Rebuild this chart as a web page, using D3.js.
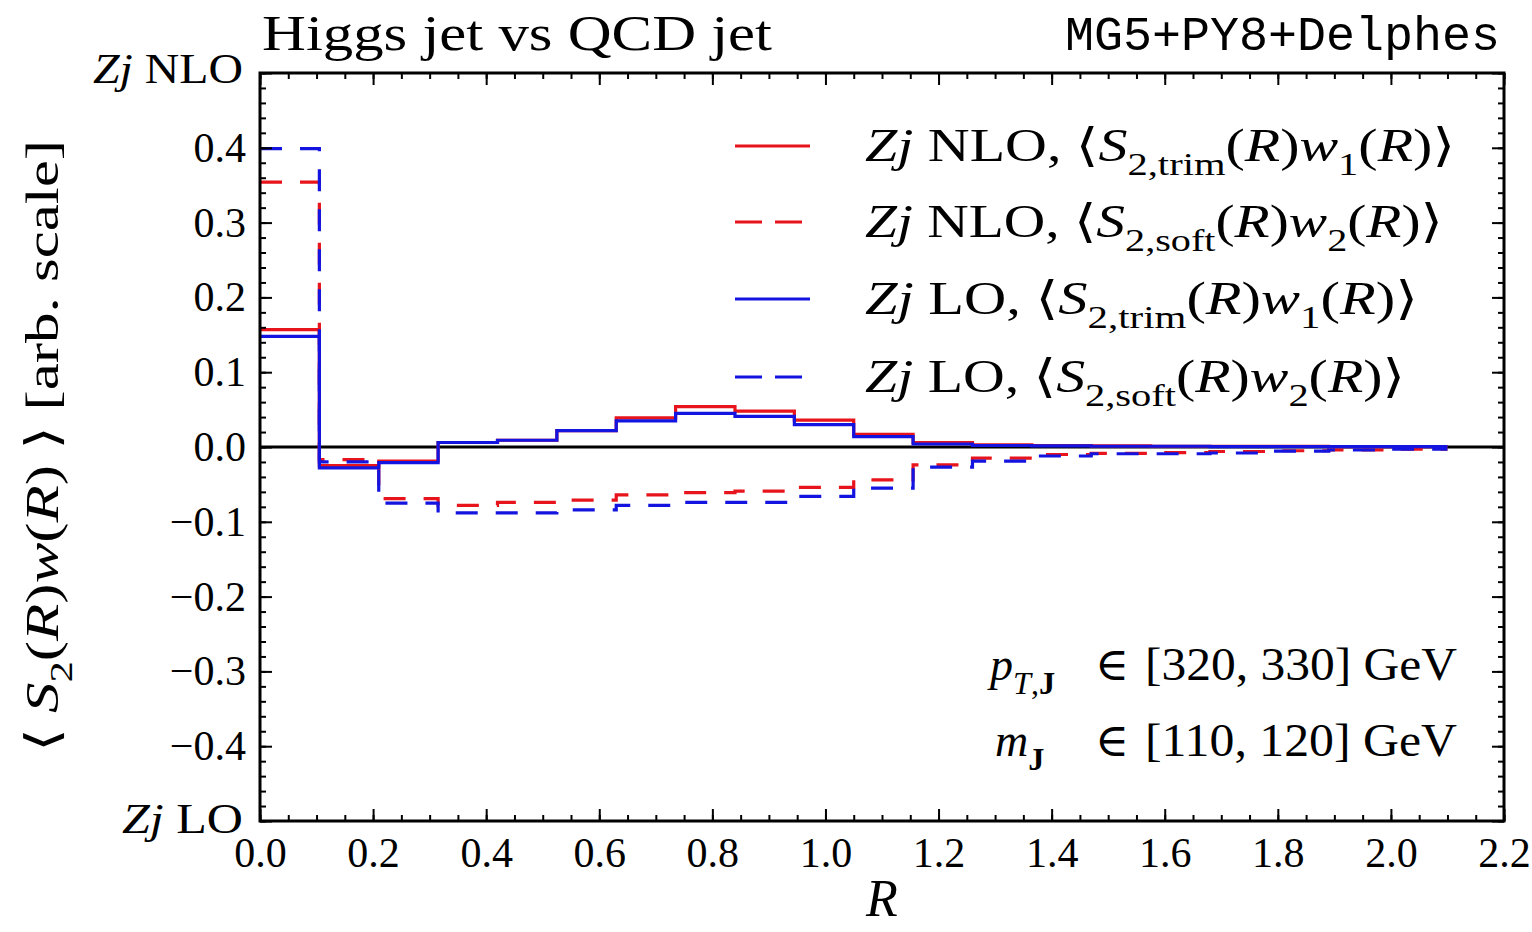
<!DOCTYPE html>
<html><head><meta charset="utf-8">
<script src="https://cdn.jsdelivr.net/npm/d3@7"></script>
<style>body{margin:0;background:#fff}svg{display:block}</style>
</head><body>
<svg id="chart" width="1532" height="932"></svg>
<script>
// ---- data ----
const binEdges = [0, 0.105, 0.21, 0.315, 0.42, 0.525, 0.63, 0.735, 0.84, 0.945, 1.05,
                  1.155, 1.26, 1.365, 1.47, 1.575, 1.68, 1.785, 1.89, 1.995, 2.1];
const nloTrim = [0.157, -0.025, -0.019, 0.006, 0.009, 0.022, 0.039, 0.054, 0.048, 0.036,
                 0.017, 0.006, 0.003, 0.002, 0.0015, 0.001, 0.001, 0.001, 0.0005, 0.0005];
const nloSoft = [0.354, -0.017, -0.069, -0.078, -0.074, -0.071, -0.064, -0.061, -0.059, -0.054,
                 -0.044, -0.024, -0.015, -0.010, -0.0085, -0.0076, -0.006, -0.005, -0.004, -0.003];
const loTrim  = [0.148, -0.028, -0.021, 0.006, 0.009, 0.022, 0.035, 0.045, 0.041, 0.030,
                 0.014, 0.004, 0.002, 0.0015, 0.001, 0.001, 0.0005, 0.0005, 0.0005, 0.0005];
const loSoft  = [0.399, -0.020, -0.075, -0.088, -0.088, -0.084, -0.078, -0.074, -0.074, -0.066,
                 -0.055, -0.027, -0.019, -0.012, -0.009, -0.009, -0.008, -0.0055, -0.004, -0.003];
const xTickValues = [0, 0.2, 0.4, 0.6, 0.8, 1.0, 1.2, 1.4, 1.6, 1.8, 2.0, 2.2];
const xTickLabels = ["0.0","0.2","0.4","0.6","0.8","1.0","1.2","1.4","1.6","1.8","2.0","2.2"];
const yTickValues = [-0.5, -0.4, -0.3, -0.2, -0.1, 0, 0.1, 0.2, 0.3, 0.4, 0.5];
const yTickLabels = ["", "\u22120.4", "\u22120.3", "\u22120.2", "\u22120.1", "0.0", "0.1", "0.2", "0.3", "0.4", ""];

const seriesList = [
  {name: "nloTrim", values: nloTrim, color: "#e8141c", dash: null},
  {name: "nloSoft", values: nloSoft, color: "#e8141c", dash: "22,18"},
  {name: "loTrim",  values: loTrim,  color: "#1414e0", dash: null},
  {name: "loSoft",  values: loSoft,  color: "#1414e0", dash: "22,18"}
];

// ---- layout ----
const W = 1532, H = 932;
const L = 260, R = 1504, T = 73, B = 821;
const SERIF = "'Liberation Serif', 'DejaVu Serif', serif";
const svg = d3.select("#chart");
svg.append("rect").attr("width", W).attr("height", H).attr("fill", "#fff");

const x = d3.scaleLinear().domain([0, 2.2]).range([L, R]);
const y = d3.scaleLinear().domain([-0.5, 0.5]).range([B, T]);

// rich text helper
function rich(sel, parts) {
  let off = 0;
  parts.forEach(([t, st]) => {
    const ts = sel.append("tspan").text(t);
    const isSub = st.startsWith("sub");
    const target = isSub ? 0.30 : 0;
    if (isSub) ts.attr("font-size", "70%");
    if (target !== off) {
      ts.attr("dy", ((target - off) * (isSub ? 1 / 0.7 : 1)) + "em");
      off = target;
    }
    if (st === "i" || st === "subi") ts.attr("font-style", "italic");
    if (st === "subb") ts.attr("font-weight", "bold");
  });
  return sel;
}

// zero line
svg.append("line").attr("x1", L).attr("x2", R).attr("y1", y(0)).attr("y2", y(0))
  .attr("stroke", "#000").attr("stroke-width", 3);

// step lines
const stepLine = d3.line().x(d => x(d[0])).y(d => y(d[1])).curve(d3.curveStepAfter);
seriesList.forEach(s => {
  const pts = s.values.map((v, i) => [binEdges[i], v]);
  pts.push([binEdges[binEdges.length - 1], s.values[s.values.length - 1]]);
  svg.append("path").datum(pts).attr("d", stepLine)
    .attr("fill", "none").attr("stroke", s.color).attr("stroke-width", 3.2)
    .attr("stroke-dasharray", s.dash);
});

// axes
const tickFont = 42;
function styleAxis(g) {
  g.select(".domain").remove();
  g.selectAll(".tick line").attr("stroke", "#000").attr("stroke-width", 2);
  g.selectAll("text").attr("font-family", SERIF).attr("font-size", tickFont).attr("fill", "#000");
}
const xMinor = d3.range(0, 2.2001, 0.05);
const yMinor = d3.range(-0.5, 0.5001, 0.02);

svg.append("g").attr("transform", `translate(0,${B})`)
  .call(d3.axisBottom(x).tickValues(xMinor).tickSize(-6).tickFormat(""))
  .call(styleAxis);
svg.append("g").attr("transform", `translate(0,${B})`)
  .call(d3.axisBottom(x).tickValues(xTickValues).tickSize(-12).tickPadding(16)
    .tickFormat((d, i) => xTickLabels[i]))
  .call(styleAxis);
svg.append("g").attr("transform", `translate(0,${T})`)
  .call(d3.axisTop(x).tickValues(xMinor).tickSize(-6).tickFormat("")).call(styleAxis);
svg.append("g").attr("transform", `translate(0,${T})`)
  .call(d3.axisTop(x).tickValues(xTickValues).tickSize(-12).tickFormat("")).call(styleAxis);

svg.append("g").attr("transform", `translate(${L},0)`)
  .call(d3.axisLeft(y).tickValues(yMinor).tickSize(-6).tickFormat("")).call(styleAxis);
svg.append("g").attr("transform", `translate(${L},0)`)
  .call(d3.axisLeft(y).tickValues(yTickValues).tickSize(-12).tickPadding(14)
    .tickFormat((d, i) => yTickLabels[i]))
  .call(styleAxis);
svg.append("g").attr("transform", `translate(${R},0)`)
  .call(d3.axisRight(y).tickValues(yMinor).tickSize(-6).tickFormat("")).call(styleAxis);
svg.append("g").attr("transform", `translate(${R},0)`)
  .call(d3.axisRight(y).tickValues(yTickValues).tickSize(-12).tickFormat("")).call(styleAxis);

// frame
svg.append("rect").attr("x", L).attr("y", T).attr("width", R - L).attr("height", B - T)
  .attr("fill", "none").attr("stroke", "#000").attr("stroke-width", 3);

// end labels on y axis
rich(svg.append("text").attr("x", 93).attr("y", y(0.5) + 10)
  .attr("font-family", SERIF).attr("font-size", 42)
  .attr("textLength", 150).attr("lengthAdjust", "spacingAndGlyphs"),
  [["Z", "i"], ["j", "i"], [" NLO", "r"]]);
rich(svg.append("text").attr("x", 122).attr("y", y(-0.5) + 12)
  .attr("font-family", SERIF).attr("font-size", 42)
  .attr("textLength", 121).attr("lengthAdjust", "spacingAndGlyphs"),
  [["Z", "i"], ["j", "i"], [" LO", "r"]]);

// titles
svg.append("text").attr("x", 262).attr("y", 50).attr("font-family", SERIF).attr("font-size", 50)
  .attr("textLength", 510).attr("lengthAdjust", "spacingAndGlyphs")
  .text("Higgs jet vs QCD jet");
svg.append("text").attr("x", 1065).attr("y", 50)
  .attr("font-family", "'Liberation Mono', 'DejaVu Sans Mono', monospace").attr("font-size", 48)
  .attr("textLength", 435).attr("lengthAdjust", "spacingAndGlyphs")
  .text("MG5+PY8+Delphes");

// axis labels
svg.append("text").attr("x", x(1.1)).attr("y", 916).attr("text-anchor", "middle")
  .attr("font-family", SERIF).attr("font-size", 52).attr("font-style", "italic").text("R");

const yl = svg.append("text").attr("transform", `translate(58,446) rotate(-90)`)
  .attr("text-anchor", "middle").attr("font-family", SERIF).attr("font-size", 46)
  .attr("textLength", 612).attr("lengthAdjust", "spacingAndGlyphs");
rich(yl, [["\u27E8 ", "r"], ["S", "i"], ["2", "sub"], ["(", "r"], ["R", "i"], [")", "r"],
          ["w", "i"], ["(", "r"], ["R", "i"], [") \u27E9 [arb. scale]", "r"]]);

// legend
const legendItems = [
  {s: seriesList[0], parts: [["Zj", "i"], [" NLO, \u27E8", "r"], ["S", "i"], ["2,trim", "sub"], ["(", "r"], ["R", "i"], [")", "r"], ["w", "i"], ["1", "sub"], ["(", "r"], ["R", "i"], [")\u27E9", "r"]], w: 590},
  {s: seriesList[1], parts: [["Zj", "i"], [" NLO, \u27E8", "r"], ["S", "i"], ["2,soft", "sub"], ["(", "r"], ["R", "i"], [")", "r"], ["w", "i"], ["2", "sub"], ["(", "r"], ["R", "i"], [")\u27E9", "r"]], w: 578},
  {s: seriesList[2], parts: [["Zj", "i"], [" LO, \u27E8", "r"], ["S", "i"], ["2,trim", "sub"], ["(", "r"], ["R", "i"], [")", "r"], ["w", "i"], ["1", "sub"], ["(", "r"], ["R", "i"], [")\u27E9", "r"]], w: 553},
  {s: seriesList[3], parts: [["Zj", "i"], [" LO, \u27E8", "r"], ["S", "i"], ["2,soft", "sub"], ["(", "r"], ["R", "i"], [")", "r"], ["w", "i"], ["2", "sub"], ["(", "r"], ["R", "i"], [")\u27E9", "r"]], w: 540}
];
const legendY = [146, 222, 299, 377];
legendItems.forEach((it, i) => {
  const ly = legendY[i];
  svg.append("line").attr("x1", 735).attr("x2", it.s.dash ? 802 : 810).attr("y1", ly).attr("y2", ly)
    .attr("stroke", it.s.color).attr("stroke-width", 3.2)
    .attr("stroke-dasharray", it.s.dash ? "27,13" : null);
  const t = svg.append("text").attr("x", 865).attr("y", ly + 15)
    .attr("font-family", SERIF).attr("font-size", 46)
    .attr("textLength", it.w).attr("lengthAdjust", "spacingAndGlyphs");
  rich(t, it.parts);
});

// annotations
const annY = [680, 756];
const a1 = svg.append("text").attr("x", 990).attr("y", annY[0]).attr("font-family", SERIF).attr("font-size", 46);
rich(a1, [["p", "i"], ["T", "subi"], [",", "sub"], ["J", "subb"]]);
const a2 = svg.append("text").attr("x", 995).attr("y", annY[1]).attr("font-family", SERIF).attr("font-size", 46);
rich(a2, [["m", "i"], ["J", "subb"]]);
const annRanges = ["[320, 330] GeV", "[110, 120] GeV"];
annRanges.forEach((r, i) => {
  svg.append("text").attr("x", 1095).attr("y", annY[i]).attr("font-family", SERIF).attr("font-size", 46)
    .text("\u2208");
  svg.append("text").attr("x", 1145).attr("y", annY[i]).attr("font-family", SERIF).attr("font-size", 46)
    .attr("textLength", 312).attr("lengthAdjust", "spacingAndGlyphs").text(r);
});
</script>
</body></html>
